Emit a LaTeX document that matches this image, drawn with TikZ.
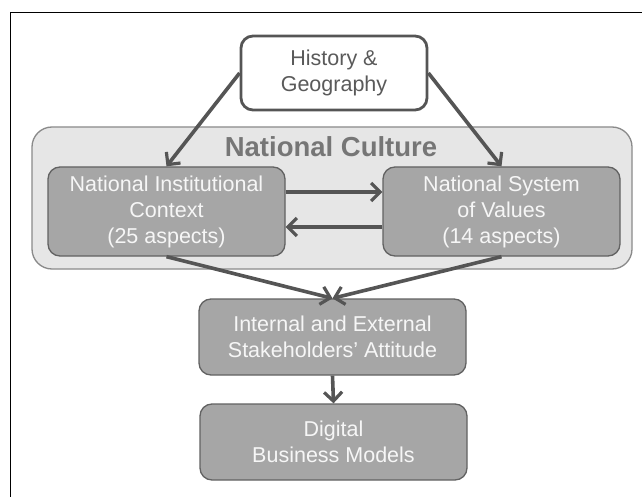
\documentclass[tikz,border=0pt]{standalone}
\usepackage{fontspec}
\setmainfont{Liberation Sans}
\usetikzlibrary{arrows.meta}
\definecolor{boxfill}{HTML}{A6A6A6}
\definecolor{boxline}{HTML}{626262}
\definecolor{ncfill}{HTML}{E6E6E6}
\definecolor{ncline}{HTML}{8A8A8A}
\definecolor{arrowcol}{HTML}{555555}
\definecolor{titlecol}{HTML}{767676}
\definecolor{histtext}{HTML}{5A5A5A}
\definecolor{lighttext}{HTML}{F6F6F6}
\tikzset{
  txt/.style={font=\fontsize{21.5}{26}\selectfont, align=center, inner sep=0pt},
  gbox/.style={txt, draw=boxline, line width=1.3pt, fill=boxfill, rounded corners=12pt, text=lighttext},
  hbox/.style={txt, draw=arrowcol, line width=2.8pt, fill=white, rounded corners=12pt, text=histtext},
  ncbox/.style={draw=ncline, line width=1.3pt, fill=ncfill, rounded corners=20pt, inner sep=0pt},
  conn/.style={draw=arrowcol, line width=3.6pt, -{Straight Barb[length=9pt,width=18pt,line width=3.2pt]}},
}
\begin{document}
\begin{tikzpicture}[x=1pt,y=-1pt]
\useasboundingbox (0,0) rectangle (642,497);
\fill[white] (0,0) rectangle (642,497);
\draw[black, line width=1.3pt] (10.5,497) -- (10.5,12.5) -- (642,12.5);
\node[ncbox, minimum width=600pt, minimum height=142pt] (nc) at (332,198) {};
\node[font=\fontsize{27.5}{30}\selectfont\bfseries, text=titlecol, inner sep=0pt] (nctitle) at (331,147) {National Culture};
\node[hbox, minimum width=186pt, minimum height=74pt] (hist) at (334,73) {History \&\\Geography};
\node[gbox, minimum width=237pt, minimum height=89pt] (nic) at (166.5,211.5) {National Institutional\\Context\\(25 aspects)};
\node[gbox, minimum width=237pt, minimum height=89pt] (nsv) at (501.5,211.5) {National System\\of Values\\(14 aspects)};
\node[gbox, minimum width=267pt, minimum height=76pt] (ia) at (332.5,337) {Internal and External\\Stakeholders’ Attitude};
\node[gbox, minimum width=267pt, minimum height=76pt] (dbm) at (333.5,442) {Digital\\Business Models};
\draw[conn] (hist.west) -- (nic.north);
\draw[conn] (hist.east) -- (nsv.north);
\draw[conn] ([yshift=19.5pt]nic.east) -- ([yshift=19.5pt]nsv.west);
\draw[conn] ([yshift=-15.5pt]nsv.west) -- ([yshift=-15.5pt]nic.east);
\draw[conn] (nic.south) -- (ia.north);
\draw[conn] (nsv.south) -- (ia.north);
\draw[conn] (ia.south) -- (dbm.north);
\end{tikzpicture}
\end{document}
